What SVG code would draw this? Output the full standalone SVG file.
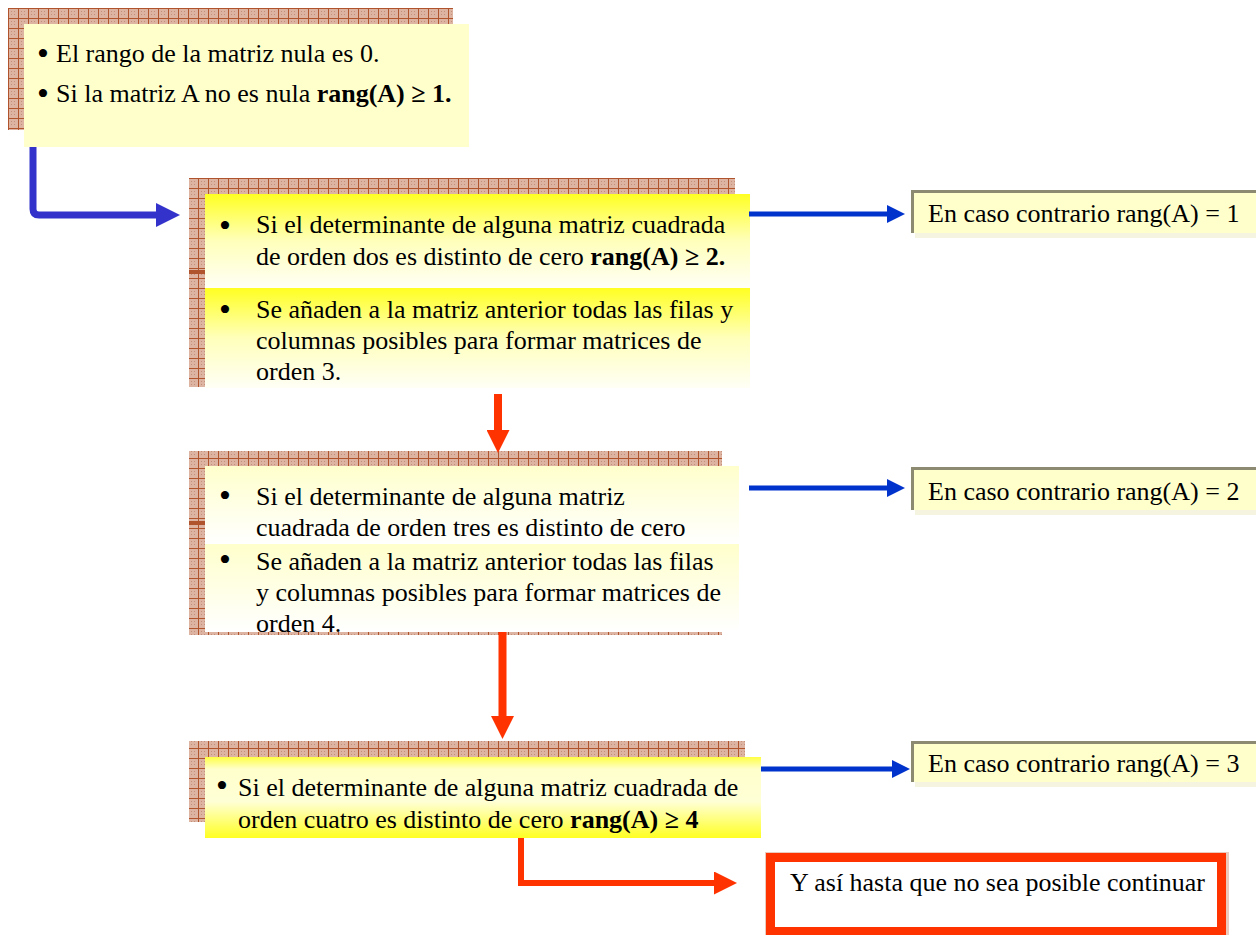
<svg xmlns="http://www.w3.org/2000/svg" width="1256" height="935" viewBox="0 0 1256 935">
<defs>
<style>
.t{font-family:"Liberation Serif","Times New Roman",serif;font-size:26px;fill:#000}
.bu{font-family:"Liberation Serif","Times New Roman",serif;font-size:34px;fill:#000}
.b{font-weight:bold}
.grid{fill:url(#grid)}
.rb{fill:#FFFFCC}
.rbs{fill:#F4F4E0}
.rbe{fill:none;stroke:#8C8A70;stroke-width:3}
.blue{fill:none;stroke:#0033CC;stroke-width:5}
.red{fill:none;stroke:#FF3300;stroke-width:8}
</style>
<pattern id="grid" width="10" height="10" patternUnits="userSpaceOnUse" x="8" y="8">
<rect width="10" height="10" fill="#DDB3A2"/>
<rect x="3" y="3" width="1" height="1" fill="#C4907C"/>
<rect x="6" y="6" width="1" height="1" fill="#C4907C"/>
<rect x="3" y="6" width="1" height="1" fill="#C4907C"/>
<rect x="6" y="3" width="1" height="1" fill="#C4907C"/>
<path d="M0 0.5H10M0.5 0V10" stroke="#B0542E" stroke-width="1"/>
</pattern>
<linearGradient id="yg" x1="0" y1="0" x2="0" y2="1">
<stop offset="0" stop-color="#FFFF22"/>
<stop offset="0.5" stop-color="#FFFFBB"/>
<stop offset="1" stop-color="#FFFFF6"/>
</linearGradient>
<linearGradient id="pg" x1="0" y1="0" x2="0" y2="1">
<stop offset="0" stop-color="#FFFFCC"/>
<stop offset="1" stop-color="#FFFFFF"/>
</linearGradient>
<linearGradient id="g4" x1="0" y1="0" x2="0" y2="1">
<stop offset="0" stop-color="#FFFF44"/>
<stop offset="0.15" stop-color="#FFFFCC"/>
<stop offset="0.55" stop-color="#FFFFD6"/>
<stop offset="1" stop-color="#FFFF22"/>
</linearGradient>
<marker id="bh" markerUnits="userSpaceOnUse" markerWidth="18" markerHeight="18" viewBox="0 0 18 18" refX="1" refY="9" orient="auto"><path d="M0 0L18 9L0 18z" fill="#0033CC"/></marker>
<marker id="bbh" markerUnits="userSpaceOnUse" markerWidth="24" markerHeight="24" viewBox="0 0 24 24" refX="2" refY="12" orient="auto"><path d="M0 0L24 12L0 24z" fill="#3333CC"/></marker>
<marker id="rh" markerUnits="userSpaceOnUse" markerWidth="23" markerHeight="23" viewBox="0 0 23 23" refX="2" refY="11.5" orient="auto"><path d="M0 0L23 11.5L0 23z" fill="#FF3300"/></marker>
</defs>
<rect width="1256" height="935" fill="#FFFFFF"/>

<g id="node1">
<rect class="grid" x="8" y="8" width="445" height="122"/>
<rect x="24" y="24" width="445" height="123" fill="#FFFFCC"/>
<text class="bu" x="37" y="65">•</text>
<text class="t" x="56" y="62">El rango de la matriz nula es 0.</text>
<text class="bu" x="37" y="105">•</text>
<text class="t" x="56" y="102">Si la matriz A no es nula <tspan class="b">rang(A) ≥ 1.</tspan></text>
</g>

<g id="node2">
<rect class="grid" x="189" y="178" width="546" height="209"/>
<rect x="189" y="270" width="16" height="4" fill="#B0542E"/>
<rect x="205" y="194" width="545" height="94" fill="url(#yg)"/>
<rect x="205" y="288" width="545" height="100" fill="url(#yg)"/>
<text class="bu" x="219" y="237">•</text>
<text class="t" x="256" y="233">Si el determinante de alguna matriz cuadrada</text>
<text class="t" x="256" y="265">de orden dos es distinto de cero <tspan class="b">rang(A) ≥ 2.</tspan></text>
<text class="bu" x="219" y="321">•</text>
<text class="t" x="256" y="318">Se añaden a la matriz anterior todas las filas y</text>
<text class="t" x="256" y="349">columnas posibles para formar matrices de</text>
<text class="t" x="256" y="380">orden 3.</text>
</g>

<g id="node3">
<rect class="grid" x="189" y="451" width="533" height="184"/>
<rect x="189" y="521" width="16" height="4" fill="#B0542E"/>
<rect x="205" y="466" width="534" height="78" fill="url(#pg)"/>
<rect x="205" y="544" width="534" height="88" fill="url(#pg)"/>
<text class="bu" x="219" y="507">•</text>
<text class="t" x="256" y="505">Si el determinante de alguna matriz</text>
<text class="t" x="256" y="536">cuadrada de orden tres es distinto de cero</text>
<text class="bu" x="219" y="571">•</text>
<text class="t" x="256" y="570">Se añaden a la matriz anterior todas las filas</text>
<text class="t" x="256" y="601">y columnas posibles para formar matrices de</text>
<text class="t" x="256" y="632">orden 4.</text>
</g>

<g id="node4">
<rect class="grid" x="189" y="741" width="556" height="81"/>
<rect x="205" y="757" width="556" height="81" fill="url(#g4)"/>
<text class="bu" x="216" y="797">•</text>
<text class="t" x="238" y="796">Si el determinante de alguna matriz cuadrada de</text>
<text class="t" x="238" y="828">orden cuatro es distinto de cero <tspan class="b">rang(A) ≥ 4</tspan></text>
</g>

<g id="node5">
<rect class="rbs" x="915" y="195" width="345" height="43"/>
<rect class="rb" x="911" y="190" width="345" height="43"/>
<path class="rbe" d="M912.5 233V191.5H1256"/>
<text class="t" x="928" y="222">En caso contrario rang(A) = 1</text>
</g>

<g id="node6">
<rect class="rbs" x="915" y="472" width="345" height="43"/>
<rect class="rb" x="911" y="467" width="345" height="43"/>
<path class="rbe" d="M912.5 510V468.5H1256"/>
<text class="t" x="928" y="500">En caso contrario rang(A) = 2</text>
</g>

<g id="node7">
<rect class="rbs" x="915" y="746" width="345" height="41"/>
<rect class="rb" x="911" y="741" width="345" height="41"/>
<path class="rbe" d="M912.5 782V742.5H1256"/>
<text class="t" x="928" y="772">En caso contrario rang(A) = 3</text>
</g>

<g id="node8">
<rect x="765" y="852" width="464" height="83" fill="#EBCBBE"/>
<rect x="770.5" y="857.5" width="451" height="74" fill="#FFFFFF" stroke="#FF3300" stroke-width="9"/>
<text class="t" x="790" y="891" font-size="29" textLength="415" lengthAdjust="spacingAndGlyphs">Y así hasta que no sea posible continuar</text>
</g>

<g id="connectors">
<path d="M33 147V209Q33 215 39 215H158" fill="none" stroke="#3333CC" stroke-width="7" marker-end="url(#bbh)"/>
<path class="blue" d="M749 214H888" marker-end="url(#bh)"/>
<path class="blue" d="M749 488H888" marker-end="url(#bh)"/>
<path class="blue" d="M761 769H893" marker-end="url(#bh)"/>
<path class="red" d="M498 394V432" marker-end="url(#rh)"/>
<path class="red" d="M502.5 632V718" marker-end="url(#rh)"/>
<path d="M521 838V883H716" fill="none" stroke="#FF3300" stroke-width="6" marker-end="url(#rh)"/>
</g>
</svg>
